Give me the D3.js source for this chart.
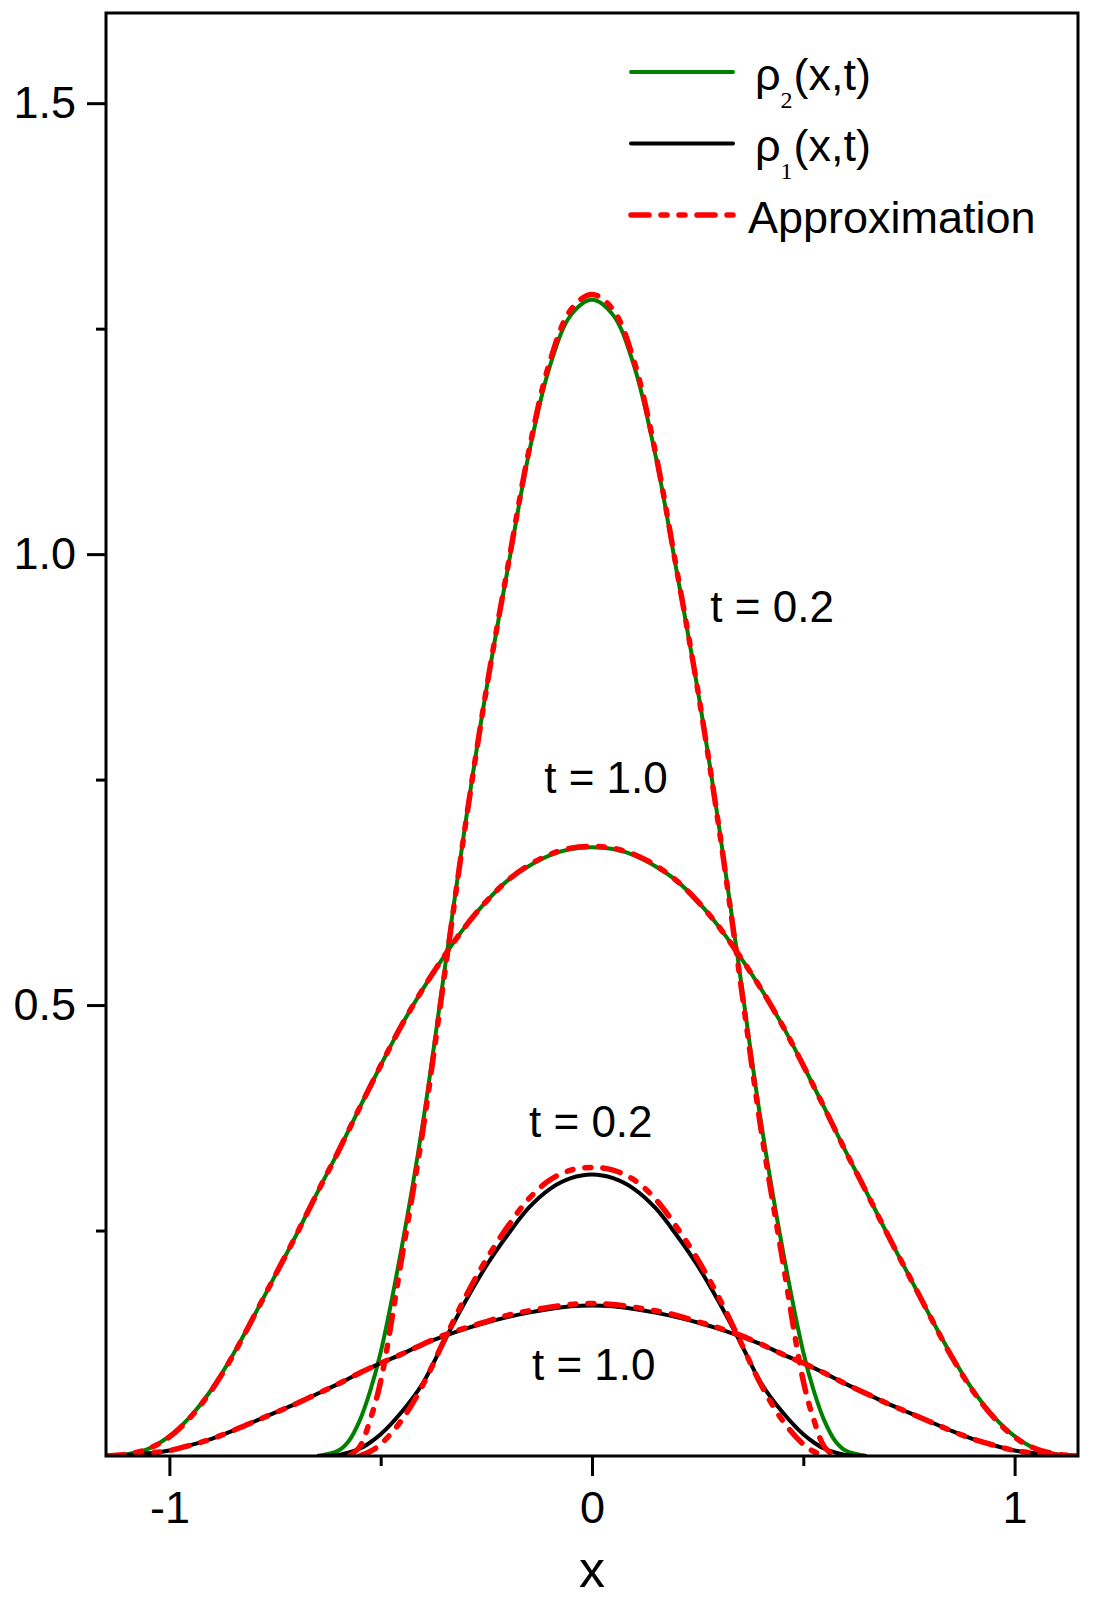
<!DOCTYPE html>
<html>
<head>
<meta charset="utf-8">
<script src="https://cdn.jsdelivr.net/npm/d3@7"></script>
<style>
  body { margin: 0; background: #fff; }
  text { font-family: "Liberation Sans", Arial, sans-serif; fill: #000; }
</style>
</head>
<body>
<div id="vis"></div>
<script>
// x positions for the narrow (t = 0.2) profiles
var xTall = [-0.65, -0.6, -0.575, -0.55, -0.525, -0.5, -0.45, -0.4, -0.35, -0.3, -0.25, -0.2, -0.15, -0.1, -0.05,
  0, 0.05, 0.1, 0.15, 0.2, 0.25, 0.3, 0.35, 0.4, 0.45, 0.5, 0.525, 0.55, 0.575, 0.6, 0.65];

// x positions for the wide (t = 1.0) profiles
var xWide = [-1.15, -1.1, -1.05, -1.0, -0.95, -0.9, -0.85, -0.8, -0.75, -0.7, -0.65, -0.6, -0.55, -0.5, -0.45, -0.4,
  -0.35, -0.3, -0.25, -0.2, -0.15, -0.1, -0.05, 0, 0.05, 0.1, 0.15, 0.2, 0.25, 0.3, 0.35, 0.4, 0.45, 0.5, 0.55,
  0.6, 0.65, 0.7, 0.75, 0.8, 0.85, 0.9, 0.95, 1.0, 1.05, 1.1, 1.15];

// rho2(x,t), t = 0.2
var rho2T02 = [0, 0.006, 0.017, 0.039, 0.072, 0.115, 0.232, 0.370, 0.535, 0.700, 0.850, 0.982, 1.110, 1.208, 1.265,
  1.282, 1.265, 1.208, 1.110, 0.982, 0.850, 0.700, 0.535, 0.370, 0.232, 0.115, 0.072, 0.039, 0.017, 0.006, 0];
// approximation of rho2, t = 0.2
var approx2T02 = [null, null, 0, 0.010, 0.040, 0.083, 0.220, 0.362, 0.530, 0.698, 0.850, 0.984, 1.113, 1.213, 1.271,
  1.288, 1.271, 1.213, 1.113, 0.984, 0.850, 0.698, 0.530, 0.362, 0.220, 0.083, 0.040, 0.010, 0, null, null];
// rho1(x,t), t = 0.2
var rho1T02 = [0, 0.001, 0.004, 0.008, 0.015, 0.024, 0.049, 0.081, 0.127, 0.171, 0.211, 0.245, 0.275, 0.296, 0.308,
  0.312, 0.308, 0.296, 0.275, 0.245, 0.211, 0.171, 0.127, 0.081, 0.049, 0.024, 0.015, 0.008, 0.004, 0.001, 0];
// approximation of rho1, t = 0.2
var approx1T02 = [null, null, null, 0, 0.005, 0.013, 0.040, 0.079, 0.128, 0.176, 0.218, 0.254, 0.285, 0.306, 0.317,
  0.320, 0.317, 0.306, 0.285, 0.254, 0.218, 0.176, 0.128, 0.079, 0.040, 0.013, 0.005, 0, null, null, null];

// rho2(x,t), t = 1.0
var rho2T10 = [0, 0.002, 0.008, 0.022, 0.044, 0.074, 0.112, 0.155, 0.200, 0.245, 0.292, 0.338, 0.386, 0.433, 0.478,
  0.518, 0.554, 0.587, 0.615, 0.638, 0.654, 0.666, 0.673, 0.675, 0.673, 0.666, 0.654, 0.638, 0.615, 0.587, 0.554,
  0.518, 0.478, 0.433, 0.386, 0.338, 0.292, 0.245, 0.200, 0.155, 0.112, 0.074, 0.044, 0.022, 0.008, 0.002, 0];
var approx2T10 = [0, 0.002, 0.008, 0.021, 0.043, 0.073, 0.111, 0.155, 0.200, 0.245, 0.292, 0.338, 0.386, 0.433, 0.478,
  0.518, 0.554, 0.587, 0.615, 0.638, 0.655, 0.667, 0.674, 0.676, 0.674, 0.667, 0.655, 0.638, 0.615, 0.587, 0.554,
  0.518, 0.478, 0.433, 0.386, 0.338, 0.292, 0.245, 0.200, 0.155, 0.111, 0.073, 0.043, 0.021, 0.008, 0.002, 0];
// rho1(x,t), t = 1.0
var rho1T10 = [0, 0.001, 0.003, 0.006, 0.012, 0.019, 0.028, 0.038, 0.048, 0.058, 0.069, 0.080, 0.092, 0.103, 0.113,
  0.124, 0.133, 0.141, 0.148, 0.154, 0.159, 0.163, 0.166, 0.167, 0.166, 0.163, 0.159, 0.154, 0.148, 0.141, 0.133,
  0.124, 0.113, 0.103, 0.092, 0.080, 0.069, 0.058, 0.048, 0.038, 0.028, 0.019, 0.012, 0.006, 0.003, 0.001, 0];
var approx1T10 = [0, 0.001, 0.003, 0.006, 0.012, 0.019, 0.028, 0.038, 0.048, 0.058, 0.069, 0.080, 0.092, 0.103, 0.113,
  0.124, 0.134, 0.142, 0.149, 0.156, 0.161, 0.165, 0.168, 0.169, 0.168, 0.165, 0.161, 0.156, 0.149, 0.142, 0.134,
  0.124, 0.113, 0.103, 0.092, 0.080, 0.069, 0.058, 0.048, 0.038, 0.028, 0.019, 0.012, 0.006, 0.003, 0.001, 0];

var xMajor = [-1, 0, 1],
    xMinor = [-0.5, 0.5],
    yMajor = [0.5, 1.0, 1.5],
    yMinor = [0.25, 0.75, 1.25];

var annotations = [
  { text: 't = 0.2', x: 0.28, y: 0.925 },
  { text: 't = 1.0', x: -0.113, y: 0.735 },
  { text: 't = 0.2', x: -0.149, y: 0.354 },
  { text: 't = 1.0', x: -0.142, y: 0.084 }
];

var width = 1095,
    height = 1599,
    plotLeft = 106, plotRight = 1078, plotTop = 13, plotBottom = 1456;

var green = '#008000', red = '#ff0000', black = '#000000';
var redDash = '18,12,6,12,6,12';

var x = d3.scaleLinear().domain([-1.15, 1.15]).range([plotLeft, plotRight]);
var y = d3.scaleLinear().domain([0, 1.6]).range([plotBottom, plotTop]);

var svg = d3.select('#vis')
  .append('svg')
    .attr('width', width)
    .attr('height', height)
    .style('background', '#fff');

svg.append('clipPath').attr('id', 'plot')
  .append('rect')
    .attr('x', plotLeft).attr('y', plotTop)
    .attr('width', plotRight - plotLeft).attr('height', plotBottom - plotTop);

var line = d3.line()
  .defined(function(d) { return d[1] != null; })
  .x(function(d) { return x(d[0]); })
  .y(function(d) { return y(d[1]); })
  .curve(d3.curveCatmullRom.alpha(0.5));

function pairs(xs, ys) {
  return xs.map(function(v, i) { return [v, ys[i]]; });
}

var series = [
  { xs: xWide, ys: rho2T10, color: green, w: 4 },
  { xs: xTall, ys: rho2T02, color: green, w: 4 },
  { xs: xWide, ys: rho1T10, color: black, w: 4 },
  { xs: xTall, ys: rho1T02, color: black, w: 4 },
  { xs: xWide, ys: approx2T10, color: red, w: 5.5, dash: redDash },
  { xs: xTall, ys: approx2T02, color: red, w: 5.5, dash: redDash },
  { xs: xWide, ys: approx1T10, color: red, w: 5.5, dash: redDash },
  { xs: xTall, ys: approx1T02, color: red, w: 5.5, dash: redDash }
];

svg.append('g')
    .attr('clip-path', 'url(#plot)')
  .selectAll('path')
  .data(series)
  .enter()
  .append('path')
    .attr('d', function(d) { return line(pairs(d.xs, d.ys)); })
    .attr('fill', 'none')
    .attr('stroke', function(d) { return d.color; })
    .attr('stroke-width', function(d) { return d.w; })
    .attr('stroke-dasharray', function(d) { return d.dash || null; })
    .attr('stroke-linecap', function(d) { return d.dash ? 'round' : 'butt'; })
    .attr('stroke-linejoin', 'round');

// axes: major ticks with labels, minor ticks without
function styleAxis(g) {
  g.select('.domain').remove();
  g.selectAll('.tick line').attr('stroke', '#000').attr('stroke-width', 3);
  g.selectAll('.tick text')
    .attr('font-family', '"Liberation Sans", Arial, sans-serif')
    .attr('font-size', 45)
    .attr('fill', '#000');
}

svg.append('g')
    .attr('transform', 'translate(0,' + plotBottom + ')')
    .call(d3.axisBottom(x).tickValues(xMajor).tickSize(20).tickPadding(15)
      .tickFormat(function(d) { return String(d); }))
    .call(styleAxis);
svg.append('g')
    .attr('transform', 'translate(0,' + plotBottom + ')')
    .call(d3.axisBottom(x).tickValues(xMinor).tickSize(10).tickFormat(''))
    .call(styleAxis);
svg.append('g')
    .attr('transform', 'translate(' + plotLeft + ',0)')
    .call(d3.axisLeft(y).tickValues(yMajor).tickSize(19).tickPadding(11).tickFormat(d3.format('.1f')))
    .call(styleAxis);
svg.append('g')
    .attr('transform', 'translate(' + plotLeft + ',0)')
    .call(d3.axisLeft(y).tickValues(yMinor).tickSize(10).tickFormat(''))
    .call(styleAxis);

// frame
svg.append('rect')
    .attr('x', plotLeft).attr('y', plotTop)
    .attr('width', plotRight - plotLeft).attr('height', plotBottom - plotTop)
    .attr('fill', 'none')
    .attr('stroke', '#000')
    .attr('stroke-width', 3);

// axis title
svg.append('text')
    .attr('x', x(0))
    .attr('y', 1587)
    .attr('text-anchor', 'middle')
    .attr('font-size', 52)
    .text('x');

// curve labels
svg.selectAll('.ann')
  .data(annotations)
  .enter()
  .append('text')
    .attr('class', 'ann')
    .attr('x', function(d) { return x(d.x); })
    .attr('y', function(d) { return y(d.y); })
    .attr('font-size', 44)
    .text(function(d) { return d.text; });

// legend
var legend = [
  { label: 'ρ', sub: '2', color: green, w: 4 },
  { label: 'ρ', sub: '1', color: black, w: 4 },
  { label: 'Approximation', color: red, w: 5.5, dash: redDash }
];

var lg = svg.append('g')
  .selectAll('g')
  .data(legend)
  .enter()
  .append('g')
    .attr('transform', function(d, i) { return 'translate(0,' + (72 + i * 71.5) + ')'; });

lg.append('line')
    .attr('x1', 631).attr('x2', 733)
    .attr('y1', 0).attr('y2', 0)
    .attr('stroke', function(d) { return d.color; })
    .attr('stroke-width', function(d) { return d.w; })
    .attr('stroke-linecap', 'round')
    .attr('stroke-dasharray', function(d) { return d.dash || null; });

var lt = lg.append('text')
    .attr('x', function(d) { return d.sub ? 755 : 748; })
    .attr('y', 17.5)
    .attr('font-size', 45);

lt.append('tspan').text(function(d) { return d.label; });
lt.filter(function(d) { return d.sub; })
  .append('tspan')
    .attr('dy', 18)
    .attr('dx', 0)
    .attr('font-size', 24)
    .style('font-family', '"Liberation Serif", "Times New Roman", serif')
    .text(function(d) { return d.sub; });
lt.filter(function(d) { return d.sub; })
  .append('tspan')
    .attr('dy', -18)
    .attr('dx', 1)
    .text('(x,t)');
</script>
</body>
</html>
